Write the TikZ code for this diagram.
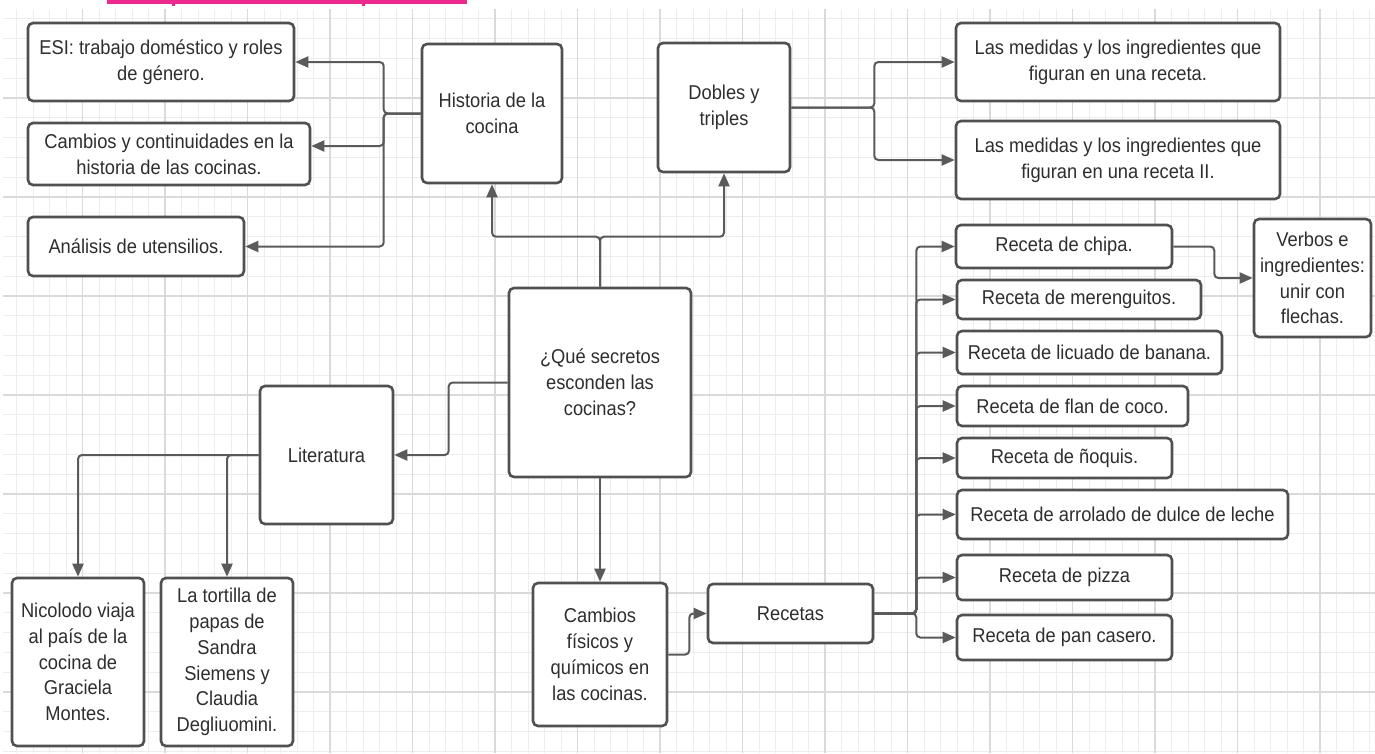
\documentclass[tikz,border=0pt]{standalone}
\usepackage{fontspec}
\setmainfont[FakeStretch=0.915]{Liberation Sans}
\usetikzlibrary{arrows.meta}
\definecolor{bordercol}{HTML}{505050}
\definecolor{conncol}{HTML}{5A5A5A}
\definecolor{txtcol}{HTML}{2E2E2E}
\definecolor{gridminor}{HTML}{EDEDED}
\definecolor{gridmajor}{HTML}{DADADA}
\definecolor{pinkbar}{HTML}{EC2A8E}
\tikzset{
  box/.style={draw=bordercol, line width=2.6pt, rounded corners=5pt, fill=white,
    align=center, text=txtcol, inner sep=0pt,
    font={\fontsize{20}{25.8}\selectfont}},
  conn/.style={draw=conncol, line width=2pt, rounded corners=4pt},
  arr/.style={conn, -{Triangle[length=13pt,width=11pt]}},
  gminor/.style={draw=gridminor, line width=0.9pt},
  gmajor/.style={draw=gridmajor, line width=1.1pt}
}
\begin{document}
\begin{tikzpicture}[x=1pt,y=-1pt]
\useasboundingbox (0,0) rectangle (1375,753);
\fill[white] (0,0) rectangle (1375,753);
% grid
\begin{scope}
\clip (3,9) rectangle (1375,753);
\foreach \i in {0,...,84} \draw[gminor] (\i*16.5,0) -- (\i*16.5,753);
\foreach \j in {0,...,39} \draw[gminor] (0,\j*19.8-1) -- (1375,\j*19.8-1);
\foreach \i in {0,...,16} \draw[gmajor] (\i*82.5,0) -- (\i*82.5,753);
\foreach \j in {0,...,8} \draw[gmajor] (0,\j*99-1) -- (1375,\j*99-1);
\end{scope}
% pink bar
\fill[pinkbar] (107,0) rectangle (467,4);
\fill[pinkbar] (172,3) rectangle (175,6);
\fill[pinkbar] (362,3) rectangle (365,6);

% nodes
\node[box, minimum width=266, minimum height=78] (esi) at (161,62) {ESI: trabajo doméstico y roles\\de género.};
\node[box, minimum width=282, minimum height=62] (cont) at (169,154) {Cambios y continuidades en la\\historia de las cocinas.};
\node[box, minimum width=216, minimum height=59] (ana) at (136,246.5) {Análisis de utensilios.};
\node[box, minimum width=140, minimum height=139] (hist) at (492,113.5) {Historia de la\\cocina};
\node[box, minimum width=132, minimum height=129] (dob) at (724,107.5) {Dobles y\\triples};
\node[box, minimum width=324, minimum height=78] (med1) at (1118,62) {Las medidas y los ingredientes que\\figuran en una receta.};
\node[box, minimum width=324, minimum height=78] (med2) at (1118,160) {Las medidas y los ingredientes que\\figuran en una receta II.};
\node[box, minimum width=182, minimum height=189] (q) at (600,382.5) {¿Qué secretos\\esconden las\\cocinas?};
\node[box, minimum width=133, minimum height=138] (lit) at (326.5,455) {Literatura};
\node[box, minimum width=132, minimum height=168] (nic) at (78,662) {Nicolodo viaja\\al país de la\\cocina de\\Graciela\\Montes.};
\node[box, minimum width=132, minimum height=168] (tor) at (227,662) {La tortilla de\\papas de\\Sandra\\Siemens y\\Claudia\\Degliuomini.};
\node[box, minimum width=134, minimum height=143] (cf) at (600,654.5) {Cambios\\físicos y\\químicos en\\las cocinas.};
\node[box, minimum width=165, minimum height=59] (rec) at (790.5,613.5) {Recetas};
\node[box, minimum width=216, minimum height=43] (r1) at (1064,246.5) {Receta de chipa.};
\node[box, minimum width=244, minimum height=39] (r2) at (1079,299.5) {Receta de merenguitos.};
\node[box, minimum width=265, minimum height=43] (r3) at (1089.5,352.5) {Receta de licuado de banana.};
\node[box, minimum width=231, minimum height=40] (r4) at (1072.5,406) {Receta de flan de coco.};
\node[box, minimum width=215, minimum height=40] (r5) at (1064.5,458) {Receta de ñoquis.};
\node[box, minimum width=331, minimum height=49] (r6) at (1122.5,514.5) {Receta de arrolado de dulce de leche};
\node[box, minimum width=215, minimum height=45] (r7) at (1064.5,577.5) {Receta de pizza};
\node[box, minimum width=215, minimum height=45] (r8) at (1064.5,637.5) {Receta de pan casero.};
\node[box, minimum width=117, minimum height=118] (verb) at (1312.5,278) {Verbos e\\ingredientes:\\unir con\\flechas.};

% connectors
\draw[arr] (hist.west) -- ++(-37,0) |- (esi.east);
\draw[arr] (hist.west) -- ++(-37,0) |- ([yshift=8pt]cont.east);
\draw[arr] (hist.west) -- ++(-37,0) |- (ana.east);
\draw[arr] (dob.east) -- ++(83,0) |- (med1.west);
\draw[arr] (dob.east) -- ++(83,0) |- (med2.west);
\draw[arr] (q.north) -- ++(0,-50) -| (hist.south);
\draw[arr] (q.north) -- ++(0,-50) -| (dob.south);
\draw[arr] (q.west) -- ++(-59,0) |- (lit.east);
\draw[arr] (lit.west) -| (nic.north);
\draw[arr] (lit.west) -| (tor.north);
\draw[arr] (q.south) -- (cf.north);
\draw[arr] (cf.east) -- ++(21,0) |- (rec.west);
\foreach \r in {r1,r2,r3,r4,r5,r6,r7,r8}
  \draw[arr] (rec.east) -- ++(42,0) |- (\r.west);
\draw[arr] (r1.east) -- ++(41,0) |- (verb.west);
\end{tikzpicture}
\end{document}
